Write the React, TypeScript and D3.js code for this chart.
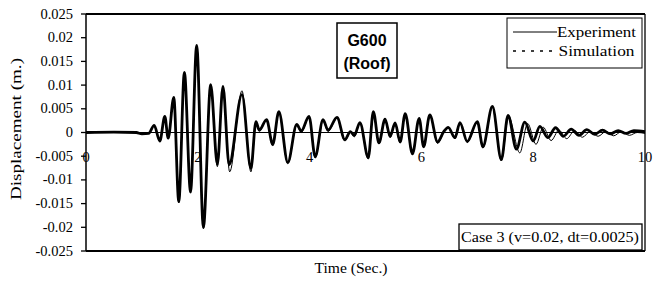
import React from 'react';
import * as d3 from 'd3';

// peaks and troughs (time in s, displacement in m)
const expTime = [0, 0.5, 0.9, 1.0, 1.12, 1.22, 1.32, 1.41, 1.47, 1.57, 1.66, 1.76, 1.87, 1.98, 2.1, 2.23, 2.35, 2.45, 2.57, 2.79, 2.95, 3.04, 3.1, 3.23, 3.34, 3.45, 3.61, 3.77, 3.85, 3.99, 4.1, 4.24, 4.33, 4.49, 4.63, 4.73, 4.8, 4.9, 5.05, 5.14, 5.24, 5.35, 5.44, 5.53, 5.62, 5.71, 5.84, 5.96, 6.04, 6.15, 6.29, 6.4, 6.48, 6.6, 6.69, 6.82, 7.0, 7.1, 7.27, 7.43, 7.56, 7.76, 7.9, 8.05, 8.18, 8.32, 8.46, 8.6, 8.74, 8.88, 9.02, 9.16, 9.3, 9.44, 9.58, 9.72, 9.86, 10];
const expDisp = [0, 0.0001, 0, -0.0003, -0.0002, 0.0014, -0.0019, 0.0033, -0.0013, 0.0072, -0.0148, 0.0125, -0.0128, 0.0182, -0.0203, 0.0099, -0.0072, 0.0095, -0.0083, 0.0088, -0.0083, 0.0021, 0.0003, 0.0025, -0.0028, 0.0042, -0.0066, 0.0015, 0.0, 0.0032, -0.0054, 0.0025, 0.0002, 0.003, -0.0018, 0.0, -0.0009, 0.0019, -0.0056, 0.0042, -0.0024, 0.0026, -0.0011, 0.0018, -0.0022, 0.0038, -0.0047, 0.0028, -0.0032, 0.0035, -0.0023, 0.0, 0.0009, -0.0013, 0.0019, -0.0021, 0.0021, -0.0033, 0.0053, -0.006, 0.0034, -0.0043, 0.0019, -0.0025, 0.0011, -0.0017, 0.0005, -0.0013, 0.0004, -0.001, 0.0002, -0.0008, 0.0002, -0.0007, 0.0002, -0.0006, 0.0, -0.0002];

const simTime = [0, 0.5, 0.9, 1.0, 1.12, 1.22, 1.32, 1.41, 1.47, 1.57, 1.66, 1.76, 1.87, 1.98, 2.1, 2.23, 2.35, 2.45, 2.56, 2.79, 2.95, 3.04, 3.1, 3.23, 3.34, 3.45, 3.61, 3.77, 3.85, 3.99, 4.1, 4.24, 4.33, 4.49, 4.63, 4.73, 4.8, 4.9, 5.05, 5.14, 5.24, 5.35, 5.44, 5.53, 5.62, 5.71, 5.84, 5.96, 6.04, 6.15, 6.29, 6.4, 6.48, 6.6, 6.69, 6.82, 7.0, 7.1, 7.27, 7.43, 7.55, 7.7, 7.85, 8.0, 8.12, 8.26, 8.4, 8.54, 8.68, 8.82, 8.96, 9.1, 9.24, 9.38, 9.52, 9.66, 9.8, 10];
const simDisp = [0, 0.0001, 0, -0.0003, -0.0002, 0.0015, -0.0018, 0.0034, -0.0012, 0.0074, -0.0146, 0.0127, -0.0125, 0.0184, -0.02, 0.0101, -0.0067, 0.0097, -0.0068, 0.008, -0.0076, 0.0023, 0.0005, 0.0027, -0.0025, 0.0044, -0.0063, 0.0017, 0.0003, 0.0034, -0.0051, 0.0027, 0.0005, 0.0032, -0.0015, 0.0002, -0.0006, 0.0021, -0.0053, 0.0044, -0.0022, 0.0028, -0.0008, 0.002, -0.002, 0.004, -0.0045, 0.003, -0.003, 0.0037, -0.002, 0.0002, 0.0011, -0.0011, 0.0021, -0.0019, 0.0023, -0.003, 0.0055, -0.0057, 0.0036, -0.0035, 0.0022, -0.0018, 0.0013, -0.0011, 0.001, -0.0008, 0.0007, -0.0006, 0.0006, -0.0004, 0.0005, -0.0003, 0.0004, -0.0002, 0.0004, 0.0002];

const yTicks = [0.025, 0.02, 0.015, 0.01, 0.005, 0, -0.005, -0.01, -0.015, -0.02, -0.025];
const yTickLabels = ['0.025', '0.02', '0.015', '0.01', '0.005', '0', '-0.005', '-0.01', '-0.015', '-0.02', '-0.025'];
const xTicks = [0, 2, 4, 6, 8, 10];

const W = 661;
const H = 290;
const left = 86, right = 645, top = 14, bottom = 251;
const serif = '"Liberation Serif", "Times New Roman", serif';
const sans = '"Liberation Sans", Arial, sans-serif';

export default function App() {
  const x = d3.scaleLinear().domain([0, 10]).range([left, right]);
  const y = d3.scaleLinear().domain([-0.025, 0.025]).range([bottom, top]);

  const makePath = (ts: number[], vs: number[]) =>
    d3.line<number>()
      .x((_, i) => x(ts[i]))
      .y((_, i) => y(vs[i]))
      .curve(d3.curveMonotoneX)(ts) || '';

  return (
    <svg width={W} height={H} style={{ position: 'absolute', left: 0, top: 0, background: '#fff' }}>
      {/* plot frame */}
      <line x1={left} x2={right} y1={top} y2={top} stroke="#000" strokeWidth={2} />
      <line x1={left} x2={right} y1={bottom} y2={bottom} stroke="#000" strokeWidth={2} />
      <line x1={right} x2={right} y1={top} y2={bottom} stroke="#000" strokeWidth={1.3} />
      <line x1={left} x2={left} y1={top} y2={bottom} stroke="#000" strokeWidth={1.5} />
      <line x1={left} x2={right} y1={y(0)} y2={y(0)} stroke="#000" strokeWidth={1} />

      {/* y axis ticks + labels */}
      {yTicks.map((t, i) => (
        <g key={'y' + i}>
          <line x1={left - 5} x2={left} y1={y(t)} y2={y(t)} stroke="#000" strokeWidth={1.3} />
          <text x={73} y={y(t) + 4.5} textAnchor="end" fontFamily={serif} fontSize={14.5}>{yTickLabels[i]}</text>
        </g>
      ))}
      <text transform={`translate(21,129) rotate(-90)`} textAnchor="middle"
        fontFamily={serif} fontSize={14} textLength={142} lengthAdjust="spacingAndGlyphs">Displacement (m.)</text>

      {/* x labels along zero line */}
      {xTicks.map(t => (
        <text key={'x' + t} x={x(t)} y={162} textAnchor="middle" fontFamily={serif} fontSize={14.5}>{t}</text>
      ))}
      <text x={351} y={273} textAnchor="middle" fontFamily={serif} fontSize={14}
        textLength={73} lengthAdjust="spacingAndGlyphs">Time (Sec.)</text>

      {/* series */}
      <path d={makePath(simTime, simDisp)} fill="none" stroke="#000" strokeWidth={2.8} strokeLinejoin="round" />
      <path d={makePath(expTime, expDisp)} fill="none" stroke="#000" strokeWidth={1} />

      {/* title box */}
      <rect x={337} y={23} width={60} height={55} fill="#fff" stroke="#000" strokeWidth={1.5} />
      <text x={367} y={46} textAnchor="middle" fontFamily={sans} fontWeight="bold" fontSize={16}>G600</text>
      <text x={367} y={69} textAnchor="middle" fontFamily={sans} fontWeight="bold" fontSize={16}>(Roof)</text>

      {/* legend */}
      <rect x={507} y={18} width={135} height={50} fill="#fff" stroke="#000" strokeWidth={1} />
      <line x1={513} x2={557} y1={32} y2={32} stroke="#000" strokeWidth={1} />
      <text x={557} y={36.5} fontFamily={serif} fontSize={14} textLength={79} lengthAdjust="spacingAndGlyphs">Experiment</text>
      <line x1={513} x2={557} y1={51} y2={51} stroke="#000" strokeWidth={1.3} strokeDasharray="3,6" />
      <text x={558.5} y={55.5} fontFamily={serif} fontSize={14} textLength={76} lengthAdjust="spacingAndGlyphs">Simulation</text>

      {/* case box */}
      <rect x={459} y={224} width={183} height={26} fill="#fff" stroke="#000" strokeWidth={1.3} />
      <text x={461} y={241.5} fontFamily={serif} fontSize={14} textLength={178} lengthAdjust="spacingAndGlyphs">Case 3 (v=0.02, dt=0.0025)</text>
    </svg>
  );
}
